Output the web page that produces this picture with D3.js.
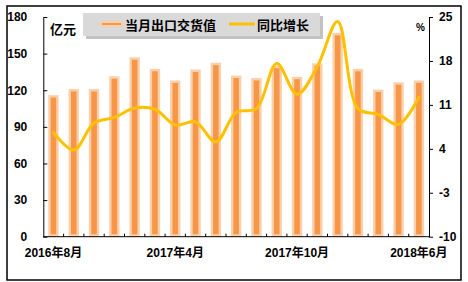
<!DOCTYPE html>
<html><head><meta charset="utf-8">
<script src="https://cdn.jsdelivr.net/npm/d3@7"></script>
<style>
html,body{margin:0;padding:0;background:#fff;}
text{font-family:Arial,"Liberation Sans","Noto Sans CJK SC",sans-serif;font-weight:bold;fill:#000;}
</style></head>
<body>
<svg id="chart" width="468" height="282"></svg>
<script>
const categories = ["2016年8月","2016年9月","2016年10月","2016年11月","2016年12月","2017年3月","2017年4月","2017年5月","2017年6月","2017年7月","2017年8月","2017年9月","2017年10月","2017年11月","2017年12月","2018年3月","2018年4月","2018年5月","2018年6月"];
const exportValue = [115, 120, 120, 130.5, 146, 136.5, 127, 136, 141.5, 131, 129, 139, 130, 141, 166, 136.5, 119.5, 125.5, 127];
const yoyGrowth = [6.6, 3.8, 8.1, 9.0, 10.5, 10.3, 7.8, 8.3, 5.1, 9.8, 10.4, 17.6, 12.7, 17.1, 24.3, 10.4, 9.5, 7.9, 12.2];
const tickLabels = ["2016年8月","2017年4月","2017年10月","2018年6月"];
const leftTicks = [0, 30, 60, 90, 120, 150, 180];
const rightTicks = [-10, -3, 4, 11, 18, 25];
const seriesNames = ["当月出口交货值", "同比增长"];

const svg = d3.select("#chart");
const L = 43.3, R = 429, T = 17, B = 236.7;

// outer frame
svg.append("rect").attr("x", 7).attr("y", 6).attr("width", 454).attr("height", 274)
  .attr("fill", "#fff").attr("stroke", "#000").attr("stroke-width", 1.5);

const x = d3.scaleBand().domain(categories).range([L, R]).paddingInner(0).paddingOuter(0);
const yL = d3.scaleLinear().domain([0, 180]).range([B, T]);
const yR = d3.scaleLinear().domain([-10, 25]).range([B, T]);

// bars
svg.append("g").selectAll("rect").data(exportValue).join("rect")
  .attr("x", (d, i) => x(categories[i]) + x.bandwidth() / 2 - 4)
  .attr("width", 8)
  .attr("y", d => yL(d))
  .attr("height", d => B - yL(d) - 1.2)
  .attr("fill", "#F79646")
  .attr("stroke", "#FAD0AC")
  .attr("stroke-width", 2.4);

// line
const line = d3.line()
  .x((d, i) => x(categories[i]) + x.bandwidth() / 2)
  .y(d => yR(d))
  .curve(d3.curveCatmullRom.alpha(0.5));
svg.append("path").datum(yoyGrowth).attr("d", line)
  .attr("fill", "none").attr("stroke", "#FFC000").attr("stroke-width", 3)
  .attr("stroke-linejoin", "round").attr("stroke-linecap", "round");

// left axis
const leftAxis = d3.axisLeft(yL).tickValues(leftTicks).tickSizeInner(-4).tickSizeOuter(0).tickPadding(16);
const gL = svg.append("g").attr("transform", `translate(${L},0)`).call(leftAxis);
gL.select(".domain").attr("stroke", "#000");
gL.selectAll("text").attr("font-size", 12).attr("font-family", "Arial,'Liberation Sans',sans-serif").attr("font-weight", "bold");

// right axis
const rightAxis = d3.axisRight(yR).tickValues(rightTicks).tickSizeInner(4).tickSizeOuter(0).tickPadding(6).tickFormat(d3.format("d"));
const gR = svg.append("g").attr("transform", `translate(${R},0)`).call(rightAxis);
gR.select(".domain").attr("stroke", "#000");
gR.selectAll("text").attr("font-size", 12).attr("font-family", "Arial,'Liberation Sans',sans-serif").attr("font-weight", "bold")
  .text(d => d < 0 ? "-" + Math.abs(d) : d);

// bottom axis: boundary ticks inward
svg.append("line").attr("x1", L).attr("x2", R).attr("y1", B).attr("y2", B).attr("stroke", "#000");
svg.append("g").selectAll("line").data(categories.slice(1)).join("line")
  .attr("x1", d => x(d)).attr("x2", d => x(d)).attr("y1", B).attr("y2", B - 3).attr("stroke", "#000");
const gx = d3.axisBottom(x).tickValues(tickLabels).tickSize(0).tickPadding(12);
const gX = svg.append("g").attr("transform", `translate(0,${B})`).call(gx);
gX.select(".domain").remove();
gX.selectAll("text").attr("font-size", 12).attr("font-weight", "bold");

// unit labels
svg.append("text").attr("x", 50).attr("y", 34).attr("font-size", 13).text("亿元");
svg.append("text").attr("x", 416).attr("y", 31).attr("font-size", 10).text("%");

// legend
const lg = svg.append("g");
lg.append("rect").attr("x", 86).attr("y", 16).attr("width", 237).attr("height", 23).attr("fill", "#9a9a9a").attr("opacity", 0.6);
lg.append("rect").attr("x", 83).attr("y", 13).attr("width", 237).attr("height", 23).attr("fill", "#D9D9D9");
lg.append("rect").attr("x", 101).attr("y", 22).attr("width", 21).attr("height", 4)
  .attr("fill", "#F79646").attr("stroke", "#FAD0AC").attr("stroke-width", 2);
lg.append("text").attr("x", 125).attr("y", 29.5).attr("font-size", 13).text(seriesNames[0]);
lg.append("line").attr("x1", 229).attr("x2", 255).attr("y1", 24).attr("y2", 24)
  .attr("stroke", "#FFC000").attr("stroke-width", 3);
lg.append("text").attr("x", 257).attr("y", 29.5).attr("font-size", 13).text(seriesNames[1]);
</script>
</body></html>
